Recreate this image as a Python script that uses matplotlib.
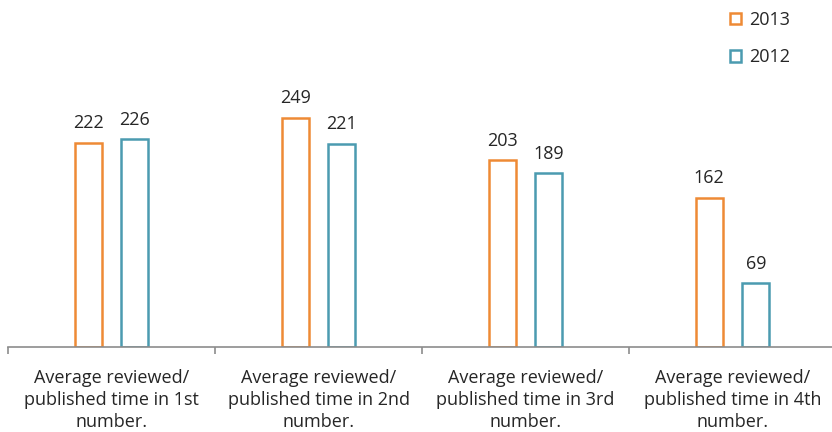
import matplotlib
matplotlib.use("Agg")
import matplotlib.pyplot as plt
from matplotlib.patches import Patch
import numpy as np

categories = [
    "Average reviewed/\npublished time in 1st\nnumber.",
    "Average reviewed/\npublished time in 2nd\nnumber.",
    "Average reviewed/\npublished time in 3rd\nnumber.",
    "Average reviewed/\npublished time in 4th\nnumber.",
]
series_names = ["2013", "2012"]
values_2013 = [222, 249, 203, 162]
values_2012 = [226, 221, 189, 69]

orange = "#ee8a35"
teal = "#4b9bb0"
axis_grey = "#8c8c8c"
text_col = "#262626"

plt.rcParams["font.family"] = ["Open Sans", "DejaVu Sans"]

W, H = 832, 432
fig = plt.figure(figsize=(W / 100, H / 100), dpi=100)
ax_left, ax_right, ax_bottom, ax_top = 8, 836, 347, 0
ax = fig.add_axes([ax_left / W, 1 - ax_bottom / H,
                   (ax_right - ax_left) / W, (ax_bottom - ax_top) / H])

x = np.arange(len(categories))
bw = 0.13
off = 0.113
for vals, col, dx, name in [(values_2013, orange, -off, series_names[0]),
                            (values_2012, teal, off, series_names[1])]:
    bars = ax.bar(x + dx, vals, width=bw, facecolor="white", edgecolor=col,
                  linewidth=1.8, label=name, zorder=2)
    for b, v in zip(bars, vals):
        ax.annotate(str(v), (b.get_x() + b.get_width() / 2, v),
                    xytext=(0, 7.5), textcoords="offset points",
                    ha="center", va="bottom", fontsize=13, color=text_col)

ax.set_xlim(-0.5, len(categories) - 0.5)
ax.set_ylim(0, 377)

for s in ["top", "right", "left"]:
    ax.spines[s].set_visible(False)
ax.spines["bottom"].set_color(axis_grey)
ax.spines["bottom"].set_linewidth(1.2)
ax.set_yticks([])

ax.set_xticks(np.arange(len(categories) + 1) - 0.5)
ax.set_xticklabels([])
ax.tick_params(axis="x", direction="out", length=5, width=1.2, color=axis_grey)

for xi, lab in zip(x, categories):
    ax.annotate(lab, (xi, 0), xytext=(0, -15.5), textcoords="offset points",
                ha="center", va="top", fontsize=13, color=text_col,
                linespacing=1.3)

handles = [Patch(facecolor="white", edgecolor=orange, linewidth=1.8, label=series_names[0]),
           Patch(facecolor="white", edgecolor=teal, linewidth=1.8, label=series_names[1])]
fig.legend(handles=handles, loc="upper left", bbox_to_anchor=(714 / W, 1 + 5.5 / H),
           frameon=False, handlelength=0.62, handleheight=0.62, handletextpad=0.45,
           labelspacing=1.08, fontsize=13, labelcolor=text_col)

fig.savefig("out.png", dpi=100)
